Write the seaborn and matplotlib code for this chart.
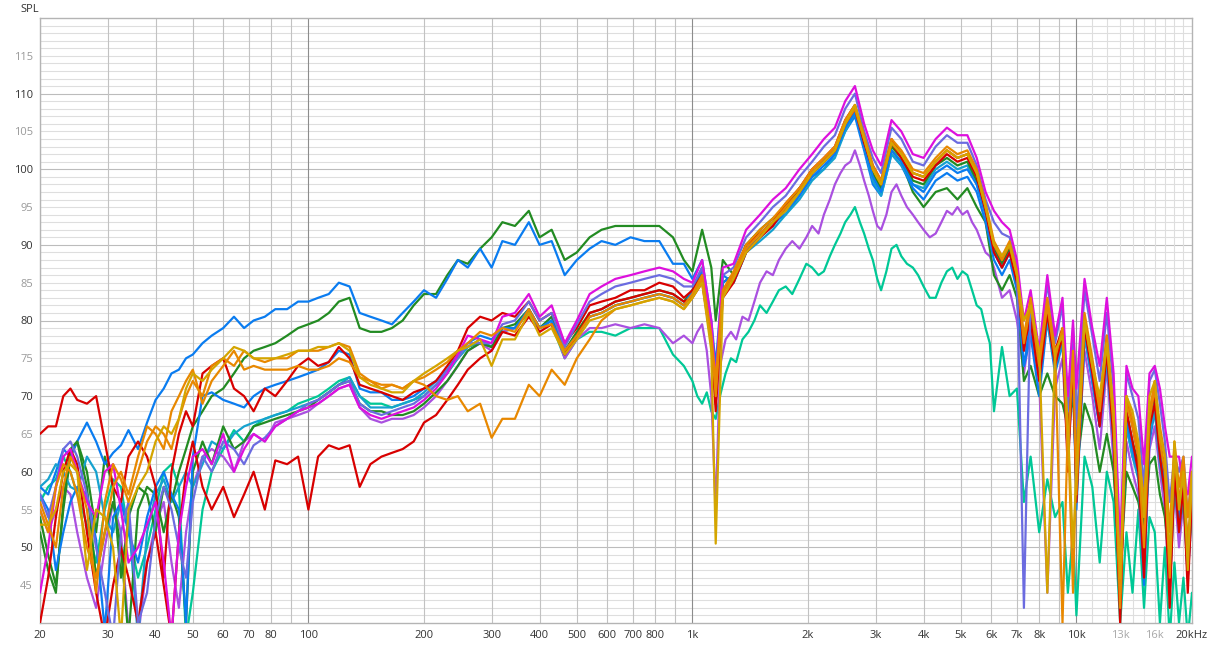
import matplotlib
matplotlib.use("Agg")
import matplotlib.pyplot as plt
from matplotlib.ticker import NullLocator
import pandas as pd
import seaborn as sns

# frequency grid (Hz), shared by all curves
freq = [20, 21, 22, 23, 24, 25, 26.5, 28, 29.5, 31,
        32.5, 34, 36, 38, 40, 42, 44, 46, 48, 50,
        53, 56, 60, 64, 68, 72, 77, 82, 88, 94,
        100,
        106, 113, 120, 128, 136, 145, 155, 165, 176, 188,
        200, 215, 230, 245, 260, 280, 300, 320, 345, 375,
        400, 430, 465, 500, 540, 580, 630, 690, 750, 820,
        890, 950,
        1000, 1060, 1120, 1150, 1200, 1280, 1380, 1500, 1620, 1750,
        1900, 2050, 2200, 2350, 2500, 2650, 2800, 2950, 3100, 3300,
        3500, 3750, 4000, 4300, 4600, 4900, 5200, 5500, 5800, 6100,
        6400, 6700, 7000, 7300, 7600, 8000, 8400, 8800, 9200, 9500,
        9800, 10000, 10500, 11000, 11500, 12000, 12500, 13000, 13500, 14000,
        14500, 15000, 15500, 16000, 16500, 17000, 17500, 18000, 18500, 19000,
        19500, 20000]

# finer 1k-6.1k grid for the two curves that stand apart from the bundle
freq_1k_6k = [1000, 1030, 1060, 1090, 1120, 1150, 1180, 1220, 1260, 1300,
              1350, 1400, 1450, 1500, 1560, 1620, 1680, 1750, 1820, 1900,
              1980, 2050, 2130, 2200, 2280, 2350, 2430, 2500, 2580, 2650,
              2730, 2800, 2880, 2950, 3030, 3100, 3200, 3300, 3400, 3500,
              3620, 3750, 3870, 4000, 4150, 4300, 4450, 4600, 4750, 4900,
              5050, 5200, 5350, 5500, 5650, 5800, 5950, 6100]

blue_hi = [58, 57, 60, 63, 62, 64, 66.5, 64, 61, 62.5,
           63.5, 65.5, 63, 66.5, 69.5, 71, 73, 73.5, 75, 75.5,
           77, 78, 79, 80.5, 79, 80, 80.5, 81.5, 81.5, 82.5,
           82.5,
           83, 83.5, 85, 84.5, 81, 80.5, 80, 79.5, 81, 82.5,
           84, 83, 85.5, 88, 87, 89.5, 87, 90.5, 90, 93,
           90, 90.5, 86, 88, 89.5, 90.5, 90, 91, 90.5, 90.5,
           87.5, 87.5,
           85.5, 88, 80, 74, 86, 85, 89, 91, 93, 94,
           96.5, 99, 100, 102, 105, 107, 102.5, 98, 96.5, 102,
           100.5, 97.5, 96, 98.5, 99.5, 98.5, 99, 97, 93, 88,
           86, 88, 84, 74, 78, 70, 80, 73, 77, 62,
           74, 55, 78, 72, 66, 75, 64, 45, 66, 62,
           60, 50, 64, 68, 62, 58, 48, 60, 54, 58,
           50, 56]

green_hi = [54, 49, 45, 55, 62, 64, 60, 52, 62, 58,
            46, 54, 58, 57, 52, 58, 56, 60, 63, 66,
            68, 70, 71, 73, 75, 76, 76.5, 77, 78, 79,
            79.5,
            80, 81, 82.5, 83, 79, 78.5, 78.5, 79, 80, 82,
            83.5, 83.5, 86, 88, 87.5, 89.5, 91, 93, 92.5, 94.5,
            91, 92, 88, 89, 91, 92, 92.5, 92.5, 92.5, 92.5,
            91, 88,
            86.5, 92, 87, 80, 88, 86, 90, 92, 93.5, 95,
            97.5, 99.5, 101, 102.5, 105.5, 108, 103, 99, 97.5, 102.5,
            101, 97, 95, 97, 97.5, 96, 97.5, 95, 93, 86,
            84, 86, 83, 72, 74, 70, 73, 70, 69, 66,
            70, 60, 69, 66, 60, 65, 60, 46, 60, 58,
            56, 52, 61, 62, 57, 54, 47, 58, 53, 56,
            48, 55]

red_mid = [65, 66, 66, 70, 71, 69.5, 69, 70, 64, 58,
           56, 62, 64, 62, 58, 46, 60, 65, 68, 66,
           73, 74, 75, 71, 70, 68, 71, 70, 72, 74,
           75,
           74, 74.5, 76.5, 75, 71.5, 71, 70.5, 70, 69.5, 70.5,
           71, 72, 74, 76, 79, 80.5, 80, 81, 80.5, 82.5,
           80, 81, 77, 79, 82, 82.5, 83, 84, 84, 85,
           84.5, 83,
           84, 86, 78, 70, 84, 86, 90, 91.5, 93, 95.5,
           97.5, 100, 101.5, 103, 106.5, 108.5, 104, 100.5, 98.5, 104,
           102, 99.5, 99, 101, 102.5, 101.5, 102, 99.5, 95, 90,
           88, 90, 86, 76, 82, 74, 82, 76, 79, 64,
           76, 58, 80, 74, 68, 78, 66, 40, 70, 66,
           62, 48, 68, 70, 64, 60, 44, 62, 56, 60,
           46, 58]

red_lo = [40, 46, 54, 60, 63, 61, 52, 44, 38, 45,
          50, 46, 40, 48, 52, 45, 38, 52, 60, 64,
          58, 55, 58, 54, 57, 60, 55, 61.5, 61, 62,
          55,
          62, 63.5, 63, 63.5, 58, 61, 62, 62.5, 63, 64,
          66.5, 67.5, 69.5, 71.5, 73.5, 75, 76, 78.5, 78, 80.5,
          78.5, 79.5, 75.5, 78, 81, 81.5, 82.5, 83, 83.5, 84,
          83.5, 82.5,
          83, 85, 77, 68, 83, 85, 89, 91, 92.5, 95,
          97, 99.5, 101, 102.5, 106, 108, 103.5, 100, 98, 103.5,
          101.5, 99, 98.5, 100.5, 102, 101, 101.5, 99, 94.5, 89,
          87, 89, 85, 77, 80, 72, 81, 74, 78, 60,
          75, 56, 79, 73, 66, 76, 64, 42, 68, 64,
          60, 46, 66, 69, 62, 57, 42, 60, 52, 58,
          44, 57]

orange = [56, 53, 50, 58, 62, 60, 55, 44, 56, 61,
          59, 56, 60, 64, 66, 65, 63, 67, 70, 72,
          70, 74, 75, 74, 76, 75, 74.5, 75, 75, 76,
          76,
          76, 76.5, 77, 76.5, 73, 72, 71.5, 71.5, 71, 72,
          72.5, 73.5, 74.5, 76, 77, 78.5, 78, 79, 78.5, 81.5,
          79, 79.5, 76, 78, 80.5, 81, 82, 82.5, 83, 83.5,
          83, 82,
          83.5, 86, 78, 72, 84, 86.5, 90, 92, 93.5, 95.5,
          97.5, 100, 101.5, 103, 106.5, 108.5, 104.5, 100.5, 98.5, 104,
          102.5, 100, 99.5, 101.5, 103, 102, 102.5, 100, 95.5, 90.5,
          88.5, 90.5, 86.5, 78, 83, 75, 83, 76, 40, 66,
          44, 62, 81, 75, 69, 78, 68, 44, 70, 67,
          63, 56, 68, 72, 66, 62, 52, 64, 58, 62,
          54, 60]

orange_lo = [55, 52, 58, 61, 60, 57, 50, 46, 52, 58,
             60, 57, 62, 66, 65, 63, 68, 70, 72, 73.5,
             69, 72, 74, 76, 73.5, 74, 73.5, 73.5, 73.5, 74,
             73.5,
             73.5, 74, 75, 74.5, 72.5, 72, 71, 71.5, 71, 72,
             71.5, 70, 69.5, 70, 68, 69, 64.5, 67, 67, 71.5,
             70, 73.5, 71.5, 75, 77.5, 80, 81.5, 82, 82.5, 83,
             82.5, 81.5,
             83, 85.5, 77.5, 70, 83.5, 86, 89.5, 91.5, 93, 95,
             97, 99.5, 101, 102.5, 106, 108, 104, 100, 98, 103.5,
             102, 99.5, 99, 101, 102.5, 101.5, 102, 99.5, 95, 90,
             88, 90, 86, 77, 82, 74, 82, 75, 79, 62,
             76, 57, 80, 74, 68, 77, 66, 42, 69, 66,
             62, 50, 67, 71, 64, 60, 46, 62, 56, 61,
             50, 59]

gold = [53, 53, 55, 60, 61, 60, 47, 55, 54, 50,
        38, 55, 58, 60, 64, 66, 65, 67, 71, 73,
        72, 73.5, 75, 76.5, 76, 75, 75, 75, 75.5, 76,
        76,
        76.5, 76.5, 77, 76, 72.5, 71.5, 71, 70.5, 70.5, 72,
        73, 74, 75, 76, 76.5, 77.5, 74, 77.5, 77.5, 81,
        78, 79, 75.5, 77.5, 80, 80.5, 81.5, 82, 82.5, 83,
        82.5, 81.5,
        83, 85, 76, 50.5, 83, 85.5, 89, 91, 93, 94.5,
        97, 99.5, 101, 102.5, 106, 108.5, 104, 100, 98, 103.5,
        102, 99.5, 99, 101, 102.5, 101.5, 102, 99.5, 95, 90,
        88.5, 90, 86, 80, 82, 76, 44, 76, 78, 66,
        50, 60, 80, 74, 70, 77, 68, 46, 70, 68,
        64, 54, 70, 72, 65, 62, 48, 64, 55, 60,
        47, 60]

blue_mid = [57, 55, 47, 52, 56, 58, 57, 51, 39, 54,
            56, 52, 48, 54, 58, 60, 57, 55, 40, 62,
            70, 70.5, 69.5, 69, 68.5, 70, 71, 71.5, 72, 72.5,
            73,
            73.5, 74.5, 76, 75.5, 71, 70.5, 70.5, 69.5, 69.5, 70,
            71, 72, 73.5, 75.5, 77, 78, 77.5, 79, 79, 81.5,
            79, 80, 76, 78, 80.5, 81, 82, 82.5, 83, 83.5,
            83, 82,
            84, 86.5, 78, 70, 85, 86, 89.5, 91, 92.5, 94.5,
            96.5, 99, 100.5, 102, 105.5, 107.5, 103, 99, 97, 102.5,
            101, 98, 97, 99.5, 100.5, 99.5, 100, 98, 94, 89,
            87, 89, 85, 74, 80, 73, 81, 75, 78, 63,
            75, 58, 79, 72, 66, 76, 64, 44, 67, 63,
            60, 45, 66, 69, 63, 58, 45, 61, 54, 59,
            48, 57]

magenta = [44, 50, 58, 62, 63, 60, 56, 54, 60, 61,
           55, 48, 50, 53, 56, 48, 38, 52, 58, 62,
           63, 61, 65, 60, 63, 65, 64, 66, 67, 68,
           68.5,
           69, 70, 71, 71.5, 68.5, 67.5, 67, 67.5, 68, 68.5,
           69.5, 71, 73, 75.5, 78, 77.5, 77, 80.5, 81, 83.5,
           80.5, 82, 77, 80, 83.5, 84.5, 85.5, 86, 86.5, 87,
           86.5, 85.5,
           85, 88, 80, 72, 87, 87.5, 92, 94, 96, 97.5,
           100, 102, 104, 105.5, 109, 111, 106, 102.5, 100.5, 106.5,
           105, 102, 101.5, 104, 105.5, 104.5, 104.5, 101.5, 97, 94.5,
           93, 92, 88, 80, 84, 76, 86, 78, 83, 70,
           80, 71, 85.5, 79, 74, 83, 73, 50, 74, 71,
           70, 61, 73, 74, 71, 66, 62, 62, 62, 58,
           57, 62]

slate = [57, 54, 58, 63, 64, 62, 57, 50, 44, 38,
         52, 56, 40, 44, 54, 58, 55, 50, 46, 56,
         62, 60, 64, 63, 61, 63.5, 64.5, 66, 67, 68,
         69,
         69.5, 70.5, 71.5, 72, 69, 68, 67.5, 68, 68.5, 69,
         70, 71.5, 73.5, 75, 77, 77, 77, 79.5, 80, 82.5,
         80, 81, 76.5, 79.5, 82.5, 83.5, 84.5, 85, 85.5, 86,
         85.5, 84.5,
         84.5, 87, 79, 71, 86, 87, 91, 93, 95, 96.5,
         99, 101, 103, 104.5, 108, 110, 105, 101.5, 99.5, 105.5,
         104, 101, 100.5, 103, 104.5, 103.5, 103.5, 100.5, 96, 93,
         91.5, 91, 87, 42, 83, 75, 85, 77, 82, 68,
         79, 66, 84, 78, 72, 81, 71, 48, 73, 70,
         67, 58, 72, 73.5, 69, 64, 56, 62, 60, 62,
         54, 60]

cyan = [58, 59, 61, 60, 58, 57.5, 62, 60, 54, 52,
        56, 54, 38, 52, 57, 59, 56, 58, 60, 58,
        61, 64, 63, 65, 66, 66.5, 67, 67.5, 68, 68.5,
        69,
        69.5, 70.5, 71.5, 72.5, 70, 68.5, 68.5, 68.5, 69, 69.5,
        70.5, 72, 73.5, 75, 76.5, 77.5, 76.5, 79, 79, 81.5,
        79, 80, 75.5, 78, 80.5, 81, 82, 82.5, 83, 83.5,
        83, 82,
        83.5, 86, 77.5, 69, 84, 85, 89, 90.5, 92, 94,
        96, 98.5, 100, 101.5, 105, 107.5, 103, 98.5, 96.5, 102,
        100.5, 98, 97.5, 100, 101, 100, 100.5, 98, 94, 89,
        87, 89, 85, 76, 81, 73, 80, 74, 77, 62,
        74, 57, 78, 72, 66, 75, 64, 43, 66, 62,
        59, 47, 65, 68, 61, 57, 44, 59, 52, 57,
        46, 56]

green_mid = [52, 47, 44, 56, 63, 64, 58, 46, 52, 56,
             50, 38, 55, 58, 57, 52, 57, 54, 40, 60,
             64, 61, 66, 63, 64, 66, 66.5, 67, 67.5, 68,
             68.5,
             69.5, 70.5, 71.5, 72, 69, 68, 68, 67.5, 67.5, 68,
             69, 70.5, 72, 74, 76, 77, 76.5, 79, 79.5, 81.5,
             79, 80.5, 76, 78.5, 81, 81.5, 82.5, 83, 83.5, 84,
             83.5, 82.5,
             84, 87, 78, 70, 85, 86, 90, 91.5, 93, 95,
             97, 99.5, 101, 102.5, 106, 108, 103.5, 99.5, 97.5, 103,
             101.5, 98.5, 98, 100.5, 101.5, 100.5, 101, 98.5, 94.5, 89.5,
             87.5, 89.5, 85.5, 77, 81.5, 74, 81.5, 75, 78.5, 63,
             75.5, 58, 79.5, 73, 67, 76.5, 65, 45, 68, 64,
             61, 52, 67, 70, 63, 59, 48, 61, 55, 59,
             49, 58]

purple = [55, 52, 55, 58, 57, 52, 46, 42, 50, 56,
          52, 39, 38, 48, 53, 56, 48, 42, 52, 58,
          62, 63, 62, 60, 64, 65, 64, 66.5, 67, 67.5,
          68,
          69, 70, 71, 71.5, 68.5, 67, 66.5, 67, 67, 67.5,
          68.5, 70, 72, 74, 76, 77, 76, 78.5, 79, 81.5,
          79, 80, 75, 77.5, 79, 79, 79.5, 79, 79.5, 79,
          77, 78,
          77, 79.5, 72, 55, 77, 79, 80.5, 85, 87.5, 89.5,
          91, 92, 94, 98, 100.5, 102.5, 98.5, 94, 92, 97,
          96.5, 94, 92, 91.5, 94.5, 94.5, 94, 92, 89, 87,
          83, 84, 80, 73, 79, 72, 44, 71, 75, 62,
          72, 58, 76, 70, 63, 74, 61, 46, 64, 60,
          57, 46, 63, 66, 60, 55, 44, 58, 50, 56,
          46, 55]

purple_1k_6k = [77, 78.5, 79.5, 76, 70, 55, 74, 77.5, 78.5, 77.5,
                80.5, 80, 82.5, 85, 86.5, 86, 88, 89.5, 90.5, 89.5,
                91, 92.5, 91.5, 94, 96, 98, 99.5, 100.5, 101, 102.5,
                100.5, 98.5, 96.5, 94.5, 92.5, 92, 94, 97, 98, 96.5,
                95, 94, 93, 92, 91, 91.5, 93, 94.5, 94, 95,
                94, 94.5, 93, 92, 90.5, 89, 88.5, 87]

mint = [56, 58, 59, 62, 60, 57, 53, 48, 55, 59,
        58, 52, 46, 50, 55, 60, 61, 58, 38, 44,
        55, 60, 63, 65.5, 64, 66, 67, 67.5, 68, 69,
        69.5,
        70, 71, 72, 72.5, 70, 69, 69, 68.5, 69, 69.5,
        70, 71.5, 73, 75, 76.5, 77, 76.5, 78.5, 79, 81,
        79, 79.5, 75, 77.5, 78.5, 78.5, 78, 79, 79, 79,
        75.5, 74,
        72, 69, 68, 67, 73, 76, 78.5, 82, 82.5, 84.5,
        85.5, 87.5, 86.5, 90, 93, 95, 91.5, 88, 84, 89.5,
        88.5, 87, 84.5, 83, 86.5, 85.5, 86, 82, 79, 68,
        76.5, 70, 71, 56, 62, 52, 59, 54, 56, 44,
        52, 41, 62, 58, 48, 60, 56, 40, 52, 44,
        55, 42, 54, 52, 40, 50, 38, 48, 40, 46,
        38, 44]

mint_1k_6k = [72, 70, 69, 70.5, 68, 67, 70, 73, 75, 74.5,
              77.5, 78.5, 80, 82, 81, 82.5, 84, 84.5, 83.5, 85.5,
              87.5, 87, 86, 86.5, 88.5, 90, 91.5, 93, 94, 95,
              93, 91.5, 89.5, 88, 85.5, 84, 86.5, 89.5, 90, 88.5,
              87.5, 87, 86, 84.5, 83, 83, 85, 86.5, 87, 85.5,
              86.5, 86, 84, 82, 81.5, 79, 77, 68]

# mint and purple use the finer grid between 1 kHz and 6.1 kHz
freq_fine = freq[:63] + freq_1k_6k + freq[93:]

# drawing order: first listed ends up underneath
curves = {
    "mint": (freq_fine, mint[:63] + mint_1k_6k + mint[93:]),
    "purple": (freq_fine, purple[:63] + purple_1k_6k + purple[93:]),
    "green_hi": (freq, green_hi), "blue_hi": (freq, blue_hi),
    "cyan": (freq, cyan), "green_mid": (freq, green_mid),
    "blue_mid": (freq, blue_mid), "red_lo": (freq, red_lo),
    "red_mid": (freq, red_mid), "slate": (freq, slate),
    "magenta": (freq, magenta), "orange_lo": (freq, orange_lo),
    "orange": (freq, orange), "gold": (freq, gold),
}
colors = {
    "mint": "#00c896", "purple": "#aa50e0", "green_hi": "#228b22",
    "blue_hi": "#0a7cf0", "cyan": "#16a2cf", "green_mid": "#228b22",
    "blue_mid": "#0a7cf0", "red_lo": "#d80000", "red_mid": "#d80000",
    "slate": "#6b6be0", "magenta": "#dd10dd", "orange_lo": "#e88800",
    "orange": "#e88800", "gold": "#d4a500",
}

xtick_vals = [20, 30, 40, 50, 60, 70, 80, 100, 200, 300, 400, 500, 600, 700, 800,
              1000, 2000, 3000, 4000, 5000, 6000, 7000, 8000, 10000, 13000, 16000, 20000]
xtick_text = ["20", "30", "40", "50", "60", "70", "80", "100", "200", "300", "400",
              "500", "600", "700", "800", "1k", "2k", "3k", "4k", "5k", "6k", "7k",
              "8k", "10k", "13k", "16k", "20kHz"]
ytick_vals = [45, 50, 55, 60, 65, 70, 75, 80, 85, 90, 95, 100, 105, 110, 115]

rows = []
for name, (fs, vals) in curves.items():
    assert len(vals) == len(fs), name
    for f, v in zip(fs, vals):
        rows.append((name, f, v))
df = pd.DataFrame(rows, columns=["curve", "freq", "spl"])

sns.set_style("white")
plt.rcParams["font.family"] = ["Open Sans", "DejaVu Sans"]

fig = plt.figure(figsize=(12.11, 6.48), dpi=100)
ax = fig.add_axes([40 / 1211, 25 / 648, 1152 / 1211, 605 / 648])

# grid
for v in range(41, 120):
    ax.axhline(v, color="#bcbcbc" if v % 10 == 0 else "#dedede", lw=0.8, zorder=0)
for decade in (10, 100, 1000):
    for m in range(2, 10):
        ax.axvline(decade * m, color="#c2c2c2", lw=0.8, zorder=0)
for f in (100, 1000, 10000):
    ax.axvline(f, color="#8c8c8c", lw=0.8, zorder=0.5)
for f in range(11000, 20000, 1000):
    ax.axvline(f, color="#dedede", lw=0.8, zorder=0)

sns.lineplot(data=df, x="freq", y="spl", hue="curve", hue_order=list(curves),
             palette=colors, estimator=None, sort=False, legend=False,
             linewidth=1.6, ax=ax, zorder=3)

ax.set_xscale("log")
ax.set_xlim(20, 20000)
ax.set_ylim(40, 120)
ax.xaxis.set_minor_locator(NullLocator())
ax.yaxis.set_minor_locator(NullLocator())
ax.set_xticks(xtick_vals)
ax.set_xticklabels(xtick_text)
ax.set_yticks(ytick_vals)
ax.set_yticklabels([str(v) for v in ytick_vals])
ax.tick_params(length=0, labelsize=8, pad=5, colors="#333333")
for lbl in ax.get_xticklabels():
    if lbl.get_text() in ("13k", "16k"):
        lbl.set_color("#a8a8a8")
for lbl, v in zip(ax.get_yticklabels(), ytick_vals):
    lbl.set_color("#333333" if v % 10 == 0 else "#999999")
ax.set_xlabel("")
ax.set_ylabel("")
for sp in ax.spines.values():
    sp.set_color("#b4b4b4")
    sp.set_linewidth(1)

fig.text(20 / 1211, 1 - 10 / 648, "SPL", fontsize=8, color="#333333", va="center", ha="left")

fig.savefig("out.png", dpi=100)
